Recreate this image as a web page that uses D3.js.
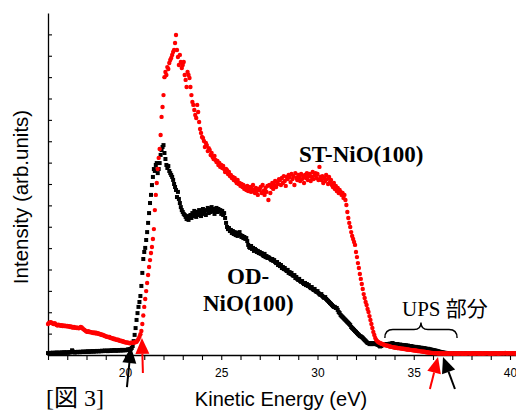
<!DOCTYPE html>
<html>
<head>
<meta charset="utf-8">
<script src="https://cdn.jsdelivr.net/npm/d3@7/dist/d3.min.js"></script>
<style>
body{margin:0;background:#fff;}
#root svg{display:block;}
</style>
</head>
<body>
<div id="root"></div>
<script>
// UPS spectra, OD-NiO(100) (black) and ST-NiO(100) (red)
// energy grid: 16 eV, step 0.05 eV, one row = 1 eV

var eStart=16, eStep=0.05;

var odNiO=[
0.09,0.07,0.10,0.08,0.09,0.11,0.08,0.10,0.09,0.12,0.10,0.09,0.11,0.10,0.12,0.10,0.11,0.13,0.10,0.12, //16
0.12,0.11,0.13,0.12,0.14,0.22,0.16,0.13,0.12,0.14,0.13,0.15,0.14,0.13,0.15,0.14,0.16,0.15,0.14,0.16, //17
0.15,0.17,0.16,0.15,0.17,0.16,0.18,0.17,0.16,0.18,0.17,0.19,0.18,0.17,0.19,0.18,0.20,0.18,0.19,0.21, //18
0.19,0.20,0.18,0.21,0.20,0.19,0.22,0.20,0.21,0.23,0.21,0.20,0.22,0.21,0.23,0.22,0.21,0.24,0.22,0.23, //19
0.22,0.24,0.23,0.26,0.25,0.27,0.28,0.33,0.42,0.65,0.94,1.26,1.64,1.96,2.25,2.48,2.76,3.23,3.84,4.49, //20
4.82,5.01,5.38,5.75,6.18,6.64,7.11,7.49,7.95,8.33,8.70,8.61,8.89,8.98,8.51,8.70,8.98,9.36,9.59,9.73, //21
9.82,9.45,9.17,8.89,8.75,8.84,8.61,8.51,8.42,8.33,8.19,8.00,7.86,7.72,7.39,7.63,7.30,7.11,6.92,6.78, //22
6.69,6.60,6.55,6.46,6.36,6.50,6.32,6.46,6.55,6.41,6.64,6.50,6.74,6.60,6.46,6.69,6.55,6.78,6.64,6.50, //23
6.69,6.83,6.60,6.74,6.55,6.78,6.88,6.64,6.83,6.69,6.92,6.74,6.83,6.60,6.78,6.88,6.69,6.83,6.74,6.78, //24
6.60,6.74,6.55,6.64,6.41,6.18,5.99,5.89,5.94,5.80,5.85,5.71,5.80,5.66,5.75,5.61,5.71,5.57,5.66,5.75, //25
5.61,5.52,5.57,5.47,5.52,5.43,5.47,5.33,5.15,5.05,5.01,5.10,4.96,5.01,4.87,4.96,4.91,4.82,4.87,4.77, //26
4.82,4.73,4.77,4.68,4.63,4.73,4.58,4.63,4.54,4.58,4.54,4.49,4.44,4.49,4.40,4.44,4.35,4.30,4.35,4.21, //27
4.26,4.16,4.21,4.07,4.12,4.02,4.07,3.98,3.93,3.98,3.84,3.88,3.79,3.84,3.74,3.70,3.74,3.60,3.65,3.56, //28
3.51,3.56,3.46,3.42,3.46,3.37,3.32,3.37,3.27,3.32,3.23,3.27,3.18,3.13,3.18,3.09,3.04,3.09,2.99,2.95, //29
2.99,2.90,2.85,2.81,2.85,2.76,2.71,2.67,2.71,2.62,2.57,2.53,2.48,2.43,2.39,2.34,2.29,2.25,2.25,2.20, //30
2.20,2.11,2.01,1.96,1.87,1.82,1.78,1.73,1.68,1.64,1.59,1.54,1.50,1.45,1.40,1.31,1.26,1.22,1.17,1.12, //31
1.08,1.03,0.98,0.94,0.89,0.87,0.84,0.80,0.75,0.70,0.66,0.61,0.56,0.56,0.51,0.56,0.51,0.56,0.51,0.56, //32
0.54,0.51,0.49,0.47,0.44,0.40,0.42,0.45,0.47,0.49,0.47,0.49,0.51,0.49,0.51,0.53,0.51,0.54,0.56,0.52, //33
0.51,0.50,0.49,0.51,0.48,0.47,0.49,0.46,0.47,0.45,0.46,0.44,0.45,0.43,0.44,0.42,0.41,0.42,0.40,0.39, //34
0.38,0.37,0.38,0.36,0.35,0.36,0.34,0.33,0.34,0.32,0.31,0.32,0.30,0.29,0.28,0.29,0.27,0.26,0.25,0.24, //35
0.23,0.22,0.21,0.20,0.19,0.18,0.16,0.15,0.14,0.13,0.12,0.11,0.10,0.10,0.09,0.09,0.08,0.08,0.08,0.07, //36
0.07,0.06,0.07,0.05,0.06,0.07,0.06,0.05,0.06,0.07,0.06,0.05,0.06,0.06,0.07,0.05,0.06,0.06,0.05,0.06, //37
0.06,0.05,0.06,0.07,0.05,0.06,0.06,0.05,0.07,0.06,0.05,0.06,0.06,0.05,0.06,0.07,0.05,0.06,0.05,0.06, //38
0.05,0.06,0.06,0.05,0.07,0.06,0.05,0.06,0.05,0.06,0.07,0.05,0.06,0.06,0.05,0.06,0.05,0.06,0.07,0.05, //39
0.06,0.05,0.06,0.06,0.05,0.06,0.05,0.06 //40
];

var stNiO=[
1.45,1.50,1.52,1.54,1.50,1.47,1.45,1.49,1.44,1.40,1.38,1.42,1.40,1.37,1.40,1.36,1.38,1.35,1.37,1.34, //16
1.36,1.33,1.35,1.31,1.33,1.30,1.28,1.31,1.27,1.29,1.26,1.28,1.25,1.27,1.31,1.29,1.24,1.20,1.17,1.13, //17
1.10,1.08,1.11,1.07,1.08,1.05,1.06,1.03,1.05,1.02,1.04,1.00,1.02,0.98,0.99,0.95,0.96,0.92,0.93,0.89, //18
0.88,0.85,0.86,0.83,0.84,0.80,0.78,0.79,0.75,0.76,0.72,0.73,0.70,0.71,0.68,0.66,0.67,0.63,0.64,0.61, //19
0.60,0.58,0.59,0.57,0.56,0.55,0.57,0.56,0.58,0.57,0.59,0.60,0.62,0.68,0.75,0.85,0.97,1.12,1.45,1.85, //20
2.25,2.62,2.99,3.37,3.74,4.12,4.44,4.77,5.05,5.43,5.89,6.78,7.49,8.05,8.70,9.22,9.64,10.29,11.14,11.60, //21
12.16,13.00,13.24,13.10,13.47,13.38,13.66,13.80,13.90,14.04,14.18,14.27,14.60,14.97,14.27,13.94,13.57,14.04,13.71,13.43, //22
13.57,13.71,13.10,12.87,12.54,13.24,13.10,12.96,12.54,12.16,11.84,11.70,11.46,11.23,11.09,11.70,11.37,10.90,10.57,10.39, //23
10.20,10.15,10.01,9.73,9.92,9.82,9.54,9.68,9.59,9.36,9.45,9.26,9.17,9.31,9.12,9.03,9.08,8.89,8.98,8.80, //24
8.89,8.75,8.84,8.70,8.56,8.70,8.65,8.47,8.56,8.37,8.42,8.28,8.33,8.19,8.28,8.14,8.05,8.19,8.00,8.05, //25
7.91,8.00,7.86,7.95,7.77,7.86,7.72,7.91,7.67,7.81,7.86,7.63,7.77,7.95,7.72,7.58,7.81,7.67,7.49,7.77, //26
7.72,7.86,7.58,7.95,7.67,7.49,7.81,7.63,7.91,7.25,7.95,7.58,7.86,8.05,7.77,7.95,8.14,7.86,8.09,8.00, //27
8.23,8.19,7.95,8.28,8.05,8.37,8.14,7.91,8.33,8.23,8.42,8.33,8.09,8.47,8.23,8.37,7.95,8.51,8.28,8.19, //28
8.42,8.33,8.14,8.47,8.23,8.37,8.05,8.42,8.28,8.51,8.19,8.37,8.47,8.14,8.33,8.56,8.23,8.42,8.51,8.28, //29
8.47,8.19,8.80,8.33,8.19,8.37,8.05,8.28,8.14,8.42,8.23,8.00,8.33,8.09,8.19,7.95,7.86,8.05,7.77,7.91, //30
7.67,7.81,7.58,7.72,7.63,7.49,7.58,7.35,7.49,7.25,7.02,6.69,6.41,6.18,5.99,5.75,5.57,5.43,5.29,5.15, //31
4.82,4.58,4.30,4.07,3.79,3.56,3.32,3.09,2.85,2.67,2.48,2.34,2.15,2.01,1.82,1.64,1.45,1.26,1.08,0.94, //32
0.80,0.70,0.65,0.61,0.58,0.56,0.54,0.52,0.50,0.48,0.47,0.45,0.44,0.43,0.42,0.40,0.39,0.38,0.37,0.36, //33
0.35,0.34,0.34,0.33,0.32,0.32,0.31,0.30,0.30,0.29,0.28,0.28,0.27,0.26,0.26,0.25,0.24,0.24,0.23,0.22, //34
0.22,0.21,0.21,0.20,0.19,0.19,0.18,0.17,0.17,0.16,0.15,0.15,0.14,0.13,0.13,0.12,0.11,0.11,0.10,0.10, //35
0.09,0.09,0.08,0.09,0.08,0.08,0.07,0.08,0.07,0.07,0.08,0.07,0.06,0.07,0.08,0.07,0.06,0.07,0.08,0.07, //36
0.08,0.07,0.06,0.07,0.08,0.07,0.06,0.07,0.08,0.07,0.07,0.06,0.08,0.07,0.06,0.07,0.08,0.09,0.07,0.06, //37
0.07,0.08,0.07,0.06,0.07,0.09,0.07,0.08,0.06,0.07,0.08,0.07,0.06,0.07,0.08,0.07,0.09,0.08,0.07,0.06, //38
0.07,0.08,0.06,0.07,0.08,0.07,0.09,0.07,0.06,0.08,0.07,0.08,0.09,0.07,0.08,0.10,0.08,0.07,0.08,0.09, //39
0.08,0.07,0.08,0.09,0.07,0.08,0.07,0.08 //40
];

var xTicks=d3.range(16,41);
var xLabels=[20,25,30,35,40];
var yTicks=d3.range(1,16);

// arrows: [energy, intensity] of tip and tail
var arrows=[
	{color:'#000',tip:[20.31,0.37],tail:[20.10,-1.50]},
	{color:'#ff0000',tip:[20.88,0.80],tail:[20.93,-0.84]},
	{color:'#ff0000',tip:[36.26,-0.09],tail:[35.84,-1.59]},
	{color:'#000',tip:[36.52,-0.09],tail:[37.14,-1.59]}
];


var b={t:13,r:0,b:57,l:48};
var w=516-b.l-b.r;
var h=412-b.t-b.b;

var svg=d3.select('#root').append('svg')
			.attr('width',516)
			.attr('height',412);

svg.append('rect').attr('width',516).attr('height',412).attr('fill','#fff');

var g=svg.append('g').attr('transform','translate('+b.l+','+b.t+')');

var scaleX=d3.scaleLinear().domain([16,40.5]).range([0,24.5*19.25]);
var scaleY=d3.scaleLinear().domain([0,16]).range([h,0]);

function toPts(arr){
	return arr.map(function(v,i){return {e:eStart+i*eStep,v:v}});
}

// axes
var xAxis=d3.axisBottom(scaleX).tickValues(xTicks).tickSize(5).tickSizeOuter(0).tickPadding(8)
			.tickFormat(function(d){return xLabels.indexOf(d)>-1?d:''});
var gx=g.append('g').attr('transform','translate(0,'+h+')').call(xAxis);
gx.selectAll('text').style('font-family','"Liberation Sans", Arial, sans-serif').style('font-size','12px').attr('fill','#000');

var yAxis=d3.axisRight(scaleY).tickValues(yTicks).tickSize(4).tickSizeOuter(0).tickFormat('');
var gy=g.append('g').call(yAxis);

g.selectAll('.domain').attr('stroke','#000').attr('stroke-width',1.3);
g.selectAll('.tick line').attr('stroke','#000').attr('stroke-width',1.1);

// data
g.append('g').selectAll('rect').data(toPts(odNiO)).enter().append('rect')
	.attr('x',function(d){return scaleX(d.e)-2})
	.attr('y',function(d){return scaleY(d.v)-2})
	.attr('width',4).attr('height',4)
	.attr('fill','#000');

g.append('g').selectAll('circle').data(toPts(stNiO)).enter().append('circle')
	.attr('cx',function(d){return scaleX(d.e)})
	.attr('cy',function(d){return scaleY(d.v)})
	.attr('r',2.2)
	.attr('fill','#ff0000');

// arrows
arrows.forEach(function(a){
	var tx=scaleX(a.tip[0]), ty=scaleY(a.tip[1]);
	var sx=scaleX(a.tail[0]), sy=scaleY(a.tail[1]);
	var ang=Math.atan2(ty-sy,tx-sx);
	var hl=16, hw=7;
	var bx=tx-hl*Math.cos(ang), by=ty-hl*Math.sin(ang);
	g.append('line').attr('x1',sx).attr('y1',sy).attr('x2',bx).attr('y2',by)
		.attr('stroke',a.color).attr('stroke-width',2);
	var p1=[bx+hw*Math.sin(ang),by-hw*Math.cos(ang)];
	var p2=[bx-hw*Math.sin(ang),by+hw*Math.cos(ang)];
	g.append('path').attr('d','M'+tx+','+ty+'L'+p1+'L'+p2+'Z').attr('fill',a.color);
});

// brace over the UPS part
var x0=scaleX(33.5), x1=scaleX(37.25), xm=(x0+x1)/2;
var yEnd=scaleY(0.80), yMid=scaleY(1.19), yTip=scaleY(1.52);
g.append('path')
	.attr('d','M'+x0+','+yEnd+'Q'+x0+','+yMid+' '+(x0+8)+','+yMid+'L'+(xm-7)+','+yMid
		+'Q'+xm+','+yMid+' '+xm+','+yTip+'Q'+xm+','+yMid+' '+(xm+7)+','+yMid
		+'L'+(x1-8)+','+yMid+'Q'+x1+','+yMid+' '+x1+','+yEnd)
	.attr('fill','none').attr('stroke','#000').attr('stroke-width',1.4);

// texts
var serif='"Liberation Serif","Times New Roman","Noto Sans CJK JP",serif';
var sans='"Liberation Sans",Arial,sans-serif';

svg.append('text').attr('x',299).attr('y',162).text('ST-NiO(100)')
	.style('font-family',serif).style('font-weight','bold').style('font-size','23px');
svg.append('text').attr('x',227).attr('y',284).text('OD-')
	.style('font-family',serif).style('font-weight','bold').style('font-size','23px');
svg.append('text').attr('x',203).attr('y',311).text('NiO(100)')
	.style('font-family',serif).style('font-weight','bold').style('font-size','23px');
svg.append('text').attr('x',402).attr('y',316).text('UPS 部分')
	.style('font-family',serif).style('font-size','21px');
svg.append('text').attr('x',46).attr('y',406).text('[図 3]')
	.style('font-family',serif).style('font-size','24px');

svg.append('text').attr('x',281).attr('y',406).attr('text-anchor','middle').text('Kinetic Energy (eV)')
	.style('font-family',sans).style('font-size','20px');
svg.append('text').attr('transform','translate(28,197) rotate(-90)').attr('text-anchor','middle').text('Intensity (arb.units)')
	.style('font-family',sans).style('font-size','20.5px');

</script>
</body>
</html>
